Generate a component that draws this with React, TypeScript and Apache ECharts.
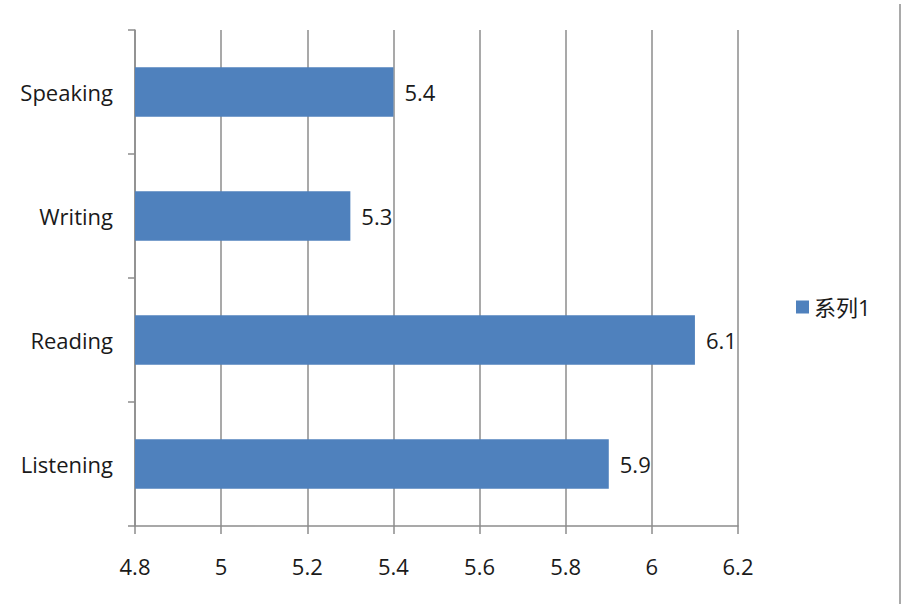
import React, { useEffect, useRef } from "react";
import * as echarts from "echarts";

const categories = ["Listening", "Reading", "Writing", "Speaking"];
const seriesName = "系列1";
const values = [5.9, 6.1, 5.3, 5.4];
const axisMin = 4.8;
const axisMax = 6.2;
const axisStep = 0.2;

const FONT = "'Open Sans', 'Noto Sans', 'Noto Sans CJK SC', sans-serif";

export default function App() {
  const ref = useRef<HTMLDivElement>(null);
  useEffect(() => {
    if (!ref.current) return;
    const chart = echarts.init(ref.current, undefined, { renderer: "svg" });
    chart.setOption({
      animation: false,
      backgroundColor: "#ffffff",
      textStyle: { fontFamily: FONT },
      grid: { left: 135, right: 185, top: 30, bottom: 78, containLabel: false },
      legend: {
        data: [seriesName],
        left: 791,
        top: 291,
        icon: "rect",
        itemWidth: 13,
        itemHeight: 13,
        itemGap: 9,
        textStyle: { fontSize: 22, color: "#1a1a1a", fontFamily: FONT },
      },
      xAxis: {
        type: "value",
        min: axisMin,
        max: axisMax,
        interval: axisStep,
        axisLine: { show: true, lineStyle: { color: "#8c8c8c", width: 1.5 } },
        axisTick: { show: true, inside: false, length: 8, lineStyle: { color: "#8c8c8c", width: 1.5 } },
        splitLine: { show: true, lineStyle: { color: "#8c8c8c", width: 1.5 } },
        axisLabel: {
          fontSize: 22,
          color: "#1a1a1a",
          margin: 29,
          formatter: (v: number) => String(Math.round(v * 10) / 10),
        },
      },
      yAxis: {
        type: "category",
        data: categories,
        axisLine: { show: true, lineStyle: { color: "#8c8c8c", width: 1.5 } },
        axisTick: { show: true, length: 7, lineStyle: { color: "#8c8c8c", width: 1.5 } },
        splitLine: { show: false },
        axisLabel: { fontSize: 22, color: "#1a1a1a", margin: 22 },
      },
      series: [
        {
          name: seriesName,
          type: "bar",
          data: values,
          barWidth: "40%",
          itemStyle: { color: "#4f81bd" },
          label: {
            show: true,
            position: "right",
            distance: 11,
            fontSize: 22,
            color: "#1a1a1a",
            fontFamily: FONT,
          },
        },
      ],
      graphic: [
        {
          type: "line",
          shape: { x1: 900, y1: 4, x2: 900, y2: 604 },
          style: { stroke: "#8c8c8c", lineWidth: 1.5 },
          silent: true,
        },
      ],
    });
    return () => chart.dispose();
  }, []);
  return (
    <div
      ref={ref}
      style={{ position: "fixed", left: 0, top: 0, width: 923, height: 604, background: "#fff" }}
    />
  );
}
